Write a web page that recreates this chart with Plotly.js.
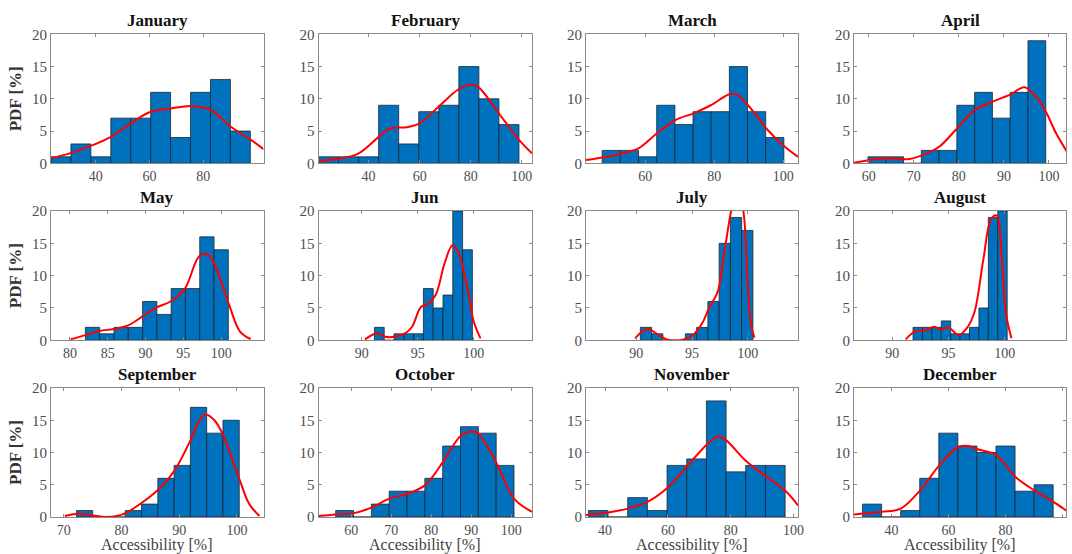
<!DOCTYPE html>
<html>
<head>
<meta charset="utf-8">
<script src="https://cdn.plot.ly/plotly-3.0.1.min.js"></script>
<style>
  html, body { margin: 0; padding: 0; background: #fff; }
  #chart { width: 1072px; height: 554px; }
</style>
</head>
<body>
<div id="chart"></div>
<script>
// monthly accessibility histograms (PDF in %) with a fitted density curve
var months = ['January', 'February', 'March', 'April', 'May', 'Jun',
              'July', 'August', 'September', 'October', 'November', 'December'];

// first bin edge and bin width of each histogram
var binStart = [23.3, 20.4, 47.5, 59.8, 82.05, 91.14, 90.37, 91.85, 72.2, 56.1, 34.7, 29.9];
var binWidth = [7.42, 7.85, 5.27, 3.95, 1.89, 0.874, 1.009, 0.837, 2.82, 4.46, 6.26, 6.68];

var counts = [
  [1, 3, 1, 7, 7, 11, 4, 11, 13, 5],
  [1, 1, 1, 9, 3, 8, 9, 15, 10, 6],
  [2, 2, 1, 9, 6, 8, 8, 15, 8, 4],
  [1, 1, 0, 2, 2, 9, 11, 7, 11, 19],
  [2, 1, 2, 2, 6, 4, 8, 8, 16, 14],
  [2, 0, 1, 1, 1, 8, 5, 7, 20, 14],
  [2, 1, 0, 0, 1, 2, 6, 15, 19, 17],
  [2, 2, 2, 3, 1, 1, 2, 5, 19, 20],
  [1, 0, 0, 1, 2, 6, 8, 17, 13, 15],
  [1, 0, 2, 4, 4, 6, 11, 14, 13, 8],
  [1, 0, 3, 1, 8, 9, 18, 7, 8, 8],
  [2, 0, 1, 6, 13, 11, 10, 11, 4, 5]
];

// density curve
var kdeX = [
  [23.3, 30, 38.1, 45.6, 53, 60.4, 67.8, 75.3, 82.7, 90.1, 97.5, 102.4],
  [20.4, 28, 36, 44, 48.5, 55, 60, 67.5, 75, 80, 83, 91, 99, 104],
  [42.8, 52.8, 58, 63.4, 68.7, 74, 79, 84.6, 86.6, 89.8, 95.1, 100.4, 104.3],
  [56.7, 63.7, 69, 72.9, 75.7, 79.6, 83.6, 87.6, 91.5, 94.6, 97.7, 99.5, 101.6, 104],
  [80.1, 82.05, 83.9, 85.8, 87.7, 89.6, 91.4, 93.3, 95.2, 97.1, 98.2, 99, 100.9, 102.5, 103.9],
  [90.3, 91.4, 92.1, 92.7, 93.9, 94.5, 95.3, 95.9, 96.6, 97.4, 98.1, 98.6, 99.5, 100.0, 100.6],
  [89.9, 91.0, 92.1, 92.8, 94.1, 95.0, 95.9, 96.5, 97.3, 97.9, 98.5, 99.0, 99.6, 100.0, 100.3, 100.6],
  [91.2, 92.1, 93.0, 93.7, 94.3, 95.0, 95.9, 96.6, 97.3, 98.1, 98.8, 99.3, 99.7, 100.1, 100.6],
  [70.2, 72.7, 75.0, 77.4, 79.2, 80.5, 83.3, 86.2, 89.0, 91.8, 93.5, 94.6, 96.1, 97.4, 100.3, 102.1, 103.9],
  [51.8, 56.1, 60.6, 65.0, 69.5, 74.0, 78.4, 82.9, 87.4, 90.1, 91.8, 96.2, 100.7, 105.2],
  [33.9, 41.0, 47.2, 53.4, 59.6, 65.8, 72.1, 75.9, 78.3, 84.6, 90.9, 97.3, 101.4],
  [26.9, 36.6, 43.3, 50.0, 56.8, 63.5, 67.0, 70.2, 76.8, 83.5, 90.2, 96.9, 101.3]
];
var kdeY = [
  [0.8, 1.5, 2.7, 4.1, 6.2, 8.0, 8.5, 8.9, 8.3, 5.7, 3.7, 2.2],
  [0.36, 0.7, 1.5, 4.1, 5.4, 5.6, 6.2, 8.8, 11.4, 12.2, 11.8, 7.75, 3.6, 1.55],
  [0.5, 1.45, 2.3, 4.65, 6.7, 7.75, 9.0, 10.75, 10.6, 9.0, 5.4, 2.6, 1.0],
  [0.1, 0.78, 0.67, 1.55, 2.6, 5.4, 8.3, 9.6, 10.7, 11.8, 9.8, 7.75, 4.65, 1.8],
  [0.15, 0.8, 1.45, 1.75, 2.3, 3.7, 5.05, 6.0, 8.0, 13.0, 13.3, 12.1, 6.0, 1.35, 0.2],
  [0.15, 1.1, 0.55, 0.5, 1.1, 2.1, 5.2, 5.6, 7.0, 11.9, 14.7, 13.7, 7.5, 2.9, 0.3],
  [0.3, 1.75, 0.7, 0.1, 0.05, 0.7, 2.6, 4.9, 7.5, 13.7, 20, 24, 20, 8.6, 2.3, 0.4],
  [0.15, 1.45, 1.55, 2.1, 1.7, 2.0, 0.8, 1.8, 4.3, 12.5, 18.8, 19.3, 13.7, 4.3, 0.3],
  [0.15, 0.5, 0.25, 0, 0.15, 0.5, 2.05, 4.1, 6.95, 11.6, 15.0, 15.9, 15.0, 13.1, 6.2, 2.05, 0.15],
  [0.15, 0.4, 0.6, 1.45, 2.85, 3.6, 4.9, 8.5, 12.6, 13.25, 12.9, 8.5, 2.85, 0.8],
  [0.3, 0.7, 1.3, 2.3, 4.4, 7.7, 11.1, 12.5, 12.0, 8.8, 6.4, 4.1, 1.8],
  [0.4, 0.8, 1.3, 4.1, 8.0, 10.85, 11.0, 10.5, 9.6, 6.2, 4.1, 2.3, 1.0]
];

// x axis limits and tick labels per panel
var xLo = [23.3, 20.4, 42.8, 56.7, 77.5, 86.15, 85.5, 86.6, 67.8, 51.8, 33.95, 26.9];
var xHi = [102.4, 104, 104.3, 103.8, 105.6, 105.2, 104.5, 105.45, 104.6, 105.2, 101.4, 101.2];
var xTicks = [
  [40, 60, 80], [40, 60, 80, 100], [60, 80, 100], [60, 70, 80, 90, 100],
  [80, 85, 90, 95, 100], [90, 95, 100], [90, 95, 100], [90, 95, 100],
  [70, 80, 90, 100], [60, 70, 80, 90, 100], [40, 60, 80, 100], [40, 60, 80, 100]
];
var yTicks = [0, 5, 10, 15, 20];

var W = 1072, H = 554;
var colPx = [[51, 263.5], [318.5, 532], [586, 798], [854, 1066]];
var rowPx = [[34.3, 163.3], [211, 340.3], [388, 517]];

var serif = '"Liberation Serif"';
var frame = '#8a8a8a';

var traces = [];
var layout = {
  width: W, height: H,
  margin: {l: 0, r: 0, t: 0, b: 0},
  paper_bgcolor: '#fff', plot_bgcolor: '#fff',
  showlegend: false,
  bargap: 0,
  font: {family: serif, size: 14, color: '#4d4d4d'},
  annotations: []
};

for (var i = 0; i < 12; i++) {
  var r = Math.floor(i / 4), c = i % 4;
  var sfx = i === 0 ? '' : String(i + 1);

  var centers = counts[i].map(function (v, k) { return binStart[i] + (k + 0.5) * binWidth[i]; });

  traces.push({
    type: 'bar', x: centers, y: counts[i], width: binWidth[i],
    xaxis: 'x' + sfx, yaxis: 'y' + sfx,
    marker: {color: '#0072BD', line: {color: '#1c2430', width: 0.8}},
    hoverinfo: 'skip'
  });
  traces.push({
    type: 'scatter', mode: 'lines', x: kdeX[i], y: kdeY[i],
    xaxis: 'x' + sfx, yaxis: 'y' + sfx,
    line: {color: '#ff0000', width: 2, shape: 'spline', smoothing: 1},
    hoverinfo: 'skip'
  });

  var xd = [colPx[c][0] / W, colPx[c][1] / W];
  var yd = [1 - rowPx[r][1] / H, 1 - rowPx[r][0] / H];

  layout['xaxis' + sfx] = {
    domain: xd, anchor: 'y' + sfx, range: [xLo[i], xHi[i]],
    tickvals: xTicks[i], ticks: 'inside', ticklen: 3, tickcolor: frame,
    showline: true, linecolor: frame, linewidth: 1, mirror: 'ticks',
    showgrid: false, zeroline: false, fixedrange: true,
    tickfont: {family: serif, size: 14, color: '#4d4d4d'}
  };
  layout['yaxis' + sfx] = {
    domain: yd, anchor: 'x' + sfx, range: [0, 20],
    tickvals: yTicks, ticks: 'inside', ticklen: 3, tickcolor: frame,
    showline: true, linecolor: frame, linewidth: 1, mirror: 'ticks',
    showgrid: false, zeroline: false, fixedrange: true,
    tickfont: {family: serif, size: 15, color: '#4d4d4d'},
    title: c === 0 ? {text: '<b>PDF [%]</b>', standoff: 6,
      font: {family: serif, size: 17, color: '#333'}} : {text: ''}
  };

  layout.annotations.push({
    text: '<b>' + months[i] + '</b>', showarrow: false,
    xref: 'paper', yref: 'paper',
    x: (xd[0] + xd[1]) / 2, y: yd[1], xanchor: 'center', yanchor: 'bottom', yshift: 2,
    font: {family: serif, size: 17, color: '#111'}
  });

  // x axis title below the bottom row
  if (r === 2) {
    layout.annotations.push({
      text: 'Accessibility [%]', showarrow: false,
      xref: 'paper', yref: 'paper', borderpad: 0,
      x: (xd[0] + xd[1]) / 2, y: 0, xanchor: 'center', yanchor: 'bottom', yshift: -1,
      font: {family: serif, size: 16, color: '#404040'}
    });
  }
}

Plotly.newPlot('chart', traces, layout, {displayModeBar: false, staticPlot: true});
</script>
</body>
</html>
